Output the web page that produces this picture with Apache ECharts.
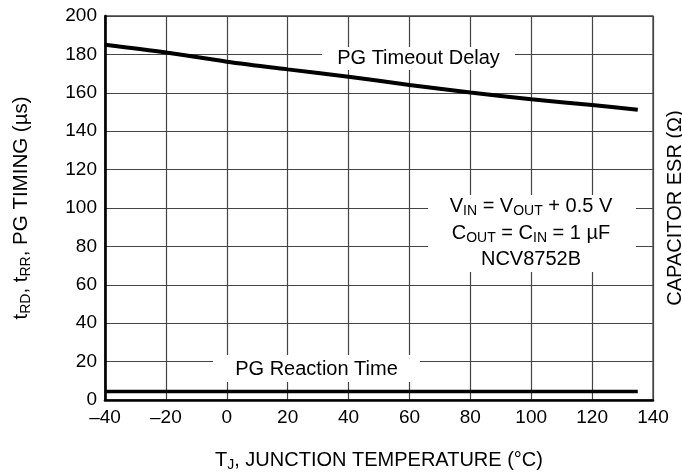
<!DOCTYPE html>
<html>
<head>
<meta charset="utf-8">
<script src="https://cdn.jsdelivr.net/npm/echarts@6/dist/echarts.min.js"></script>
<style>
  html, body { margin: 0; padding: 0; background: #fff; }
  #chart { width: 682px; height: 476px; }
</style>
</head>
<body>
<div id="chart"></div>
<script>
// Junction temperature sample points (°C)
const tempC = [-40, -20, 0, 20, 40, 60, 80, 100, 120, 135];
// PG timeout delay (µs)
const timeoutDelay = [185, 181, 176.2, 172.2, 168.4, 164.1, 160.1, 156.6, 153.6, 151.2];
// PG reaction time (µs)
const reactionTime = [4.4, 4.4, 4.4, 4.4, 4.4, 4.4, 4.4, 4.4, 4.4, 4.4];

const xTicks = { min: -40, max: 140, step: 20 };
const yTicks = { min: 0, max: 200, step: 20 };

const FONT = '"Liberation Sans", Arial, Helvetica, sans-serif';
const sub = { fontSize: 14, lineHeight: 12, verticalAlign: 'bottom', fontFamily: FONT, color: '#000' };
const base = { fontSize: 20, lineHeight: 24, fontFamily: FONT, color: '#000' };

const chart = echarts.init(document.getElementById('chart'), null, { renderer: 'canvas' });

const pairs = (ys) => tempC.map((t, i) => [t, ys[i]]);

chart.setOption({
  animation: false,
  backgroundColor: '#fff',
  grid: {
    left: 105, right: 29, top: 16, bottom: 76,
    containLabel: false,
    outerBoundsMode: 'none',
    show: true, borderColor: '#444', borderWidth: 1.3, backgroundColor: 'transparent'
  },
  xAxis: {
    type: 'value',
    min: xTicks.min, max: xTicks.max, interval: xTicks.step,
    axisLine: { show: true, onZero: false, lineStyle: { color: '#000', width: 2.6 } },
    axisTick: { show: false },
    splitLine: { show: true, lineStyle: { color: '#444', width: 1.2 } },
    axisLabel: {
      margin: 8, fontSize: 19, fontFamily: FONT, color: '#000',
      formatter: v => (v < 0 ? '\u2013' + Math.abs(v) : String(v))
    },
    name: 'T{s|J}, JUNCTION TEMPERATURE (°C)',
    nameLocation: 'middle', nameGap: 48,
    nameTextStyle: { ...base, rich: { s: sub } }
  },
  yAxis: [{
    type: 'value',
    min: yTicks.min, max: yTicks.max, interval: yTicks.step,
    axisLine: { show: true, onZero: false, lineStyle: { color: '#000', width: 2.6 } },
    axisTick: { show: false },
    splitLine: { show: true, lineStyle: { color: '#444', width: 1.2 } },
    axisLabel: { margin: 8, fontSize: 19, fontFamily: FONT, color: '#000' },
    name: 't{s|RD}, t{s|RR}, PG TIMING (µs)',
    nameLocation: 'middle', nameRotate: 90, nameGap: 72,
    nameTextStyle: { ...base, fontSize: 20.5, rich: { s: sub } }
  }, {
    type: 'value',
    position: 'right',
    min: yTicks.min, max: yTicks.max, interval: yTicks.step,
    axisLine: { show: false }, axisTick: { show: false },
    axisLabel: { show: false }, splitLine: { show: false },
    name: 'CAPACITOR ESR (Ω)',
    nameLocation: 'middle', nameRotate: 90, nameGap: 10,
    nameTextStyle: { ...base }
  }],
  series: [{
    name: 'PG Timeout Delay',
    type: 'line',
    data: pairs(timeoutDelay),
    smooth: 0.3,
    showSymbol: false,
    lineStyle: { color: '#000', width: 4 },
    z: 5
  }, {
    name: 'PG Reaction Time',
    type: 'line',
    data: pairs(reactionTime),
    showSymbol: false,
    lineStyle: { color: '#000', width: 3.6 },
    z: 5
  }],
  graphic: [
    // curve labels on white boxes
    { type: 'rect', z: 100, shape: { x: 322, y: 47, width: 193, height: 23 }, style: { fill: '#fff' } },
    { type: 'text', z: 101, x: 418.5, y: 58.5,
      style: { text: 'PG Timeout Delay', font: '20px ' + FONT, fill: '#000', align: 'center', verticalAlign: 'middle' } },
    { type: 'rect', z: 100, shape: { x: 213, y: 355, width: 207, height: 27 }, style: { fill: '#fff' } },
    { type: 'text', z: 101, x: 316.5, y: 369,
      style: { text: 'PG Reaction Time', font: '20px ' + FONT, fill: '#000', align: 'center', verticalAlign: 'middle' } },
    // test conditions
    { type: 'rect', z: 100, shape: { x: 428, y: 195, width: 208, height: 77 }, style: { fill: '#fff' } },
    { type: 'text', z: 101, x: 531, y: 206,
      style: {
        text: 'V{s|IN} = V{s|OUT} + 0.5 V', align: 'center', verticalAlign: 'middle',
        ...base, fill: '#000', rich: { s: sub }
      } },
    { type: 'text', z: 101, x: 531, y: 233,
      style: {
        text: 'C{s|OUT} = C{s|IN} = 1 µF', align: 'center', verticalAlign: 'middle',
        ...base, fill: '#000', rich: { s: sub }
      } },
    { type: 'text', z: 101, x: 531, y: 259,
      style: { text: 'NCV8752B', font: '20px ' + FONT, fill: '#000', align: 'center', verticalAlign: 'middle' } }
  ]
});
</script>
</body>
</html>
